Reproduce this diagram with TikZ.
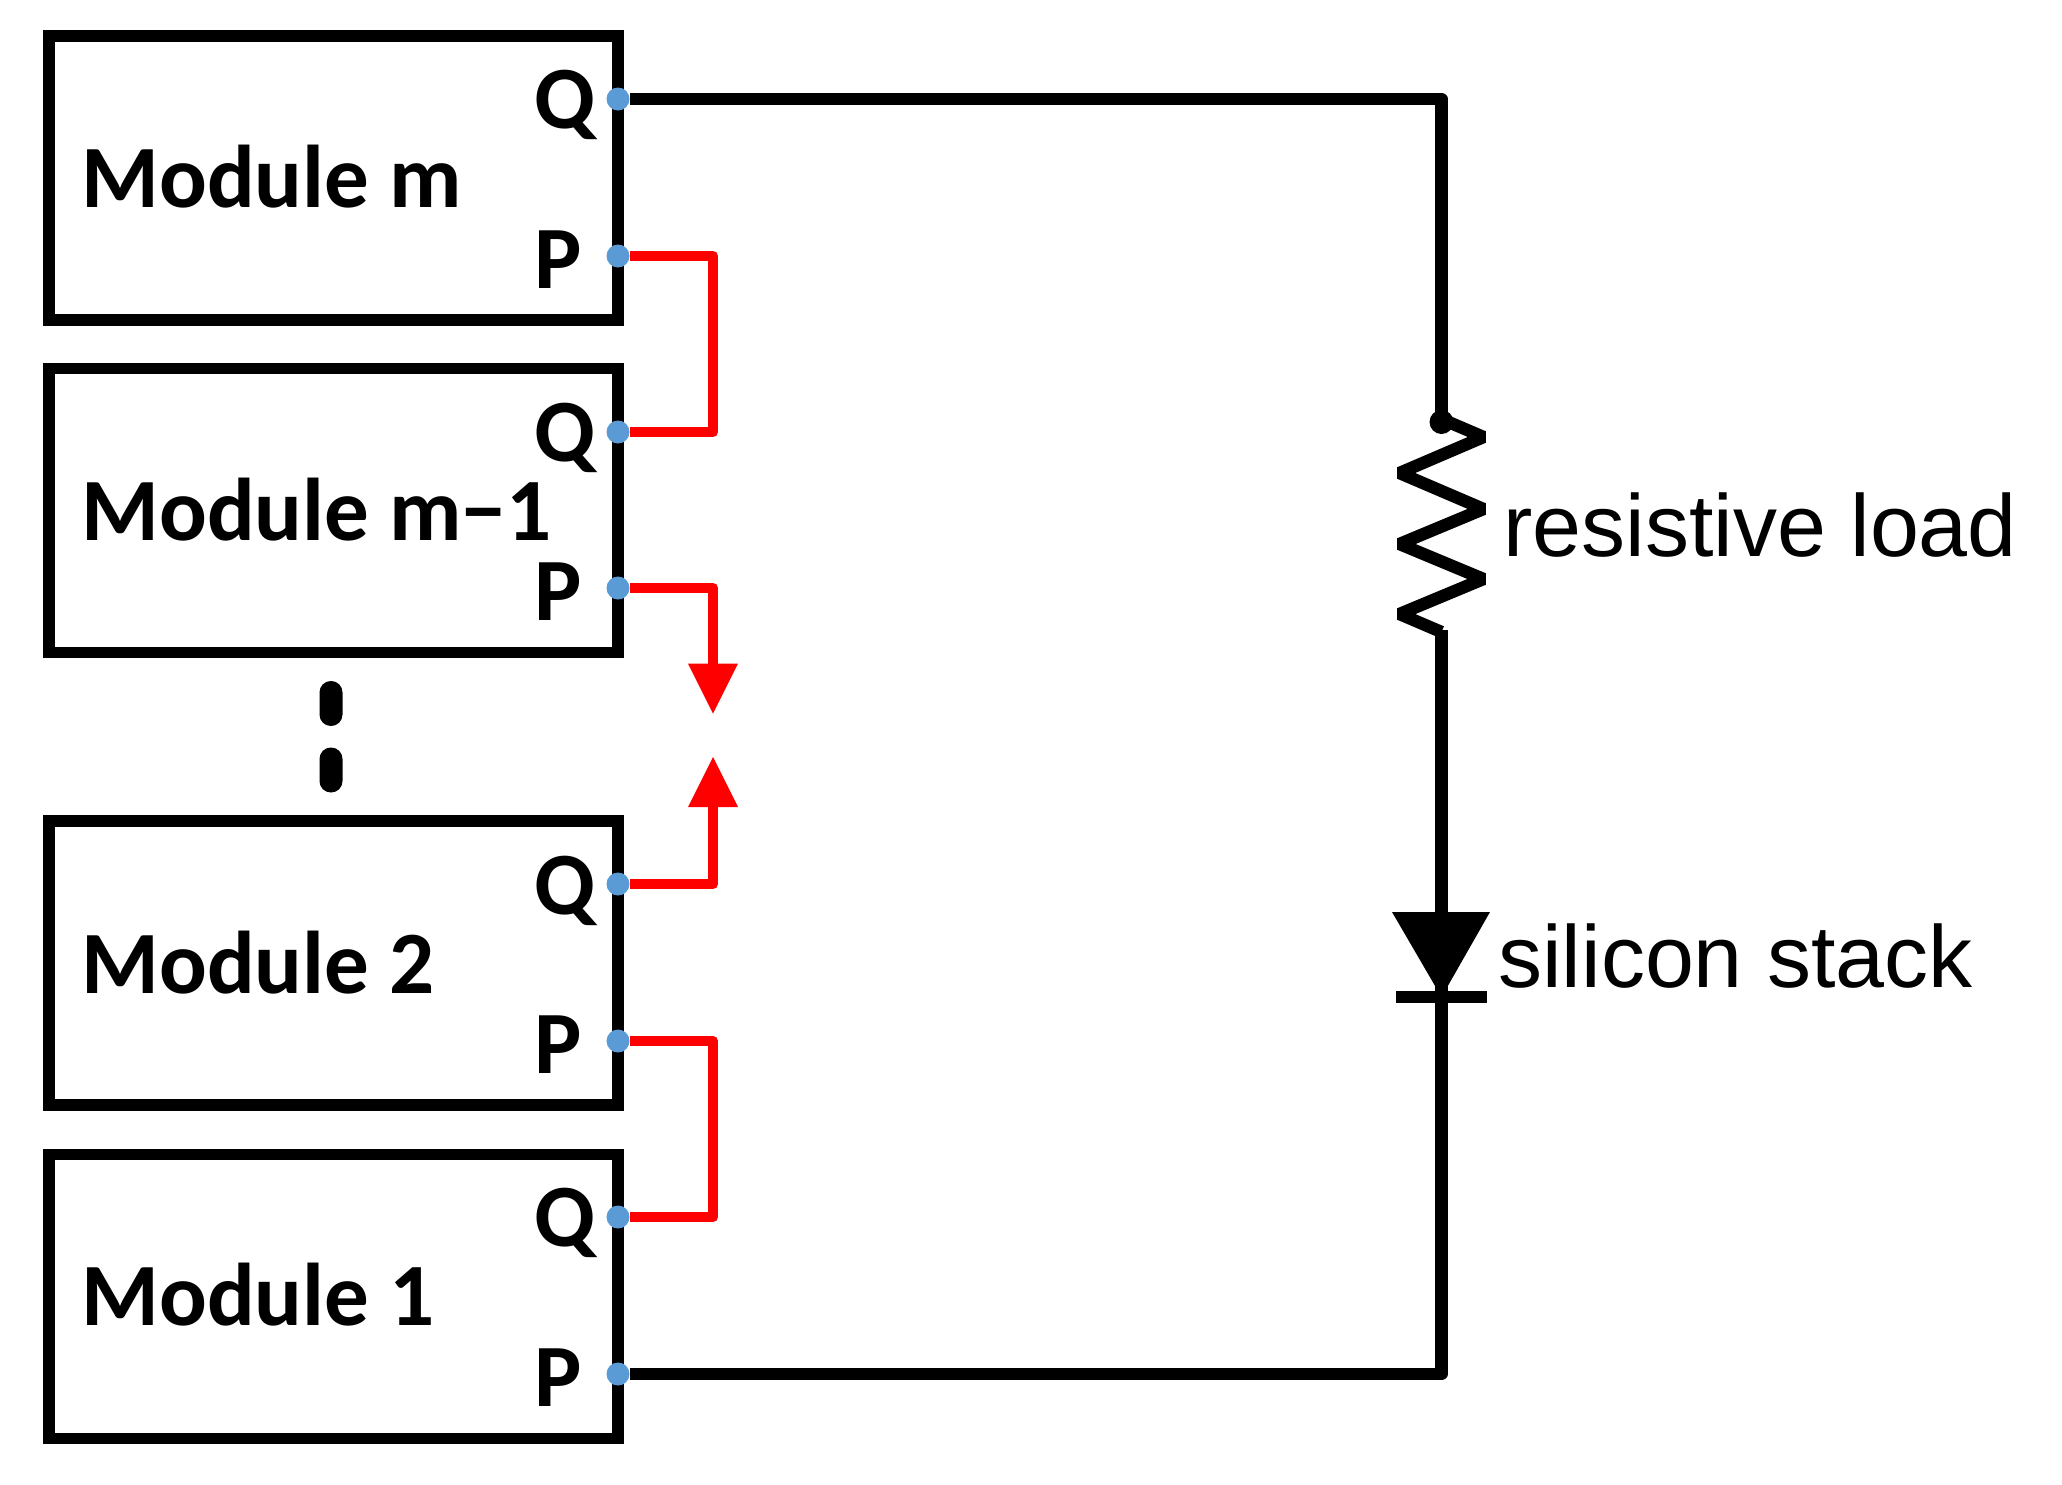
\documentclass[tikz,border=0pt]{standalone}
\usepackage{fontspec}
\usetikzlibrary{arrows.meta}
\setmainfont{Liberation Sans}
\newfontfamily\modfont{Carlito}
\definecolor{termblue}{HTML}{5B9BD5}
\tikzset{x=0.5pt,y=-0.5pt,
 modbox/.style={draw=black,line width=5.85pt,minimum width=284.6pt,minimum height=142pt,inner sep=0pt,outer sep=0pt,anchor=north west},
 modlabel/.style={font=\modfont\bfseries\fontsize{44.5pt}{44.5pt}\selectfont,anchor=base west,inner sep=0pt},
 portlabel/.style={font=\modfont\bfseries\fontsize{44.5pt}{44.5pt}\selectfont,anchor=base west,inner sep=0pt},
 terminal/.style={circle,fill=termblue,draw=none,minimum size=11.5pt,inner sep=0pt,outer sep=0pt},
 wireblack/.style={draw=black,line width=6.2pt,line join=round},
 wirered/.style={draw=red,line width=5pt,line join=round},
 redarrow/.style={wirered,-{Triangle[length=25pt,width=25pt,line width=0pt]}},
 dotbar/.style={fill=black,draw=none,minimum width=11.5pt,minimum height=22.5pt,rounded corners=5.7pt,inner sep=0pt,outer sep=0pt},
 caption/.style={font=\fontsize{44pt}{44pt}\selectfont,anchor=base west,inner sep=0pt},
}
\begin{document}
\begin{tikzpicture}
\useasboundingbox (0,0) rectangle (2062,1484);
% module boxes
\node[modbox] (bm) at (48.8,36) {};
\node[modbox] (bn) at (48.8,368.5) {};
\node[modbox] (bb) at (48.8,821) {};
\node[modbox] (ba) at (48.8,1154.5) {};
% ellipsis bars
\node[dotbar] (dot1) at (331,703.5) {};
\node[dotbar] (dot2) at (331,770) {};
% module labels
\node[modlabel] (lm) at (81,207) {Module m};
\node[modlabel] (ln) at (81,540) {Module m−1};
\node[modlabel] (lb) at (81,993) {Module 2};
\node[modlabel] (la) at (81,1325) {Module 1};
% port labels
\node[portlabel] (qm) at (534,128) {Q};
\node[portlabel] (pm) at (534,288) {P};
\node[portlabel] (qn) at (534,461) {Q};
\node[portlabel] (pn) at (534,620) {P};
\node[portlabel] (qb) at (534,914) {Q};
\node[portlabel] (pb) at (534,1073) {P};
\node[portlabel] (qa) at (534,1246) {Q};
\node[portlabel] (pa) at (534,1406) {P};
% terminals
\node[terminal] (tmQ) at (618,99) {};
\node[terminal] (tmP) at (618,256) {};
\node[terminal] (tnQ) at (618,432) {};
\node[terminal] (tnP) at (618,588) {};
\node[terminal] (tbQ) at (618,884) {};
\node[terminal] (tbP) at (618,1041) {};
\node[terminal] (taQ) at (618,1217) {};
\node[terminal] (taP) at (618,1374) {};
% helper coordinates
\coordinate (rail) at (713,0);
\coordinate (main) at (1441.5,0);
\coordinate (tipdown) at (713,713.6);
\coordinate (tipup) at (713,757);
\coordinate (rtop) at (1441.5,422);
\coordinate (zstart) at (1441.5,419);
\coordinate (zend) at (1441.5,632);
\coordinate (rbot) at (1441.5,630);
\coordinate (dtop) at (1441.5,912);
\coordinate (dbar) at (1441.5,997);
% red links
\draw[wirered] (tmP) -- (tmP -| rail) -- (tnQ -| rail) -- (tnQ);
\draw[wirered] (tbP) -- (tbP -| rail) -- (taQ -| rail) -- (taQ);
\draw[redarrow] (tnP) -- (tnP -| rail) -- (tipdown);
\draw[redarrow] (tbQ) -- (tbQ -| rail) -- (tipup);
% main loop
\draw[wireblack] (tmQ) -- (tmQ -| main) -- (rtop);
\fill[black] (rtop) circle (6pt);
\draw[black,line width=6.2pt,line join=bevel] (zstart) -- (1483.5,437) -- (1399.5,473) -- (1483.5,509) -- (1399.5,544) -- (1483.5,579) -- (1399.5,614) -- (zend);
\draw[wireblack] (rbot) -- (dbar);
\draw[wireblack] (dbar) -- (taP -| main) -- (taP);
\fill[black] (1392,912) -- (1490,912) -- (dbar) -- cycle;
\fill[black] (1396,991) rectangle (1487,1003);
% captions
\node[caption] (rl) at (1503,556) {resistive load};
\node[caption] (ss) at (1498,987) {silicon stack};
\end{tikzpicture}
\end{document}
